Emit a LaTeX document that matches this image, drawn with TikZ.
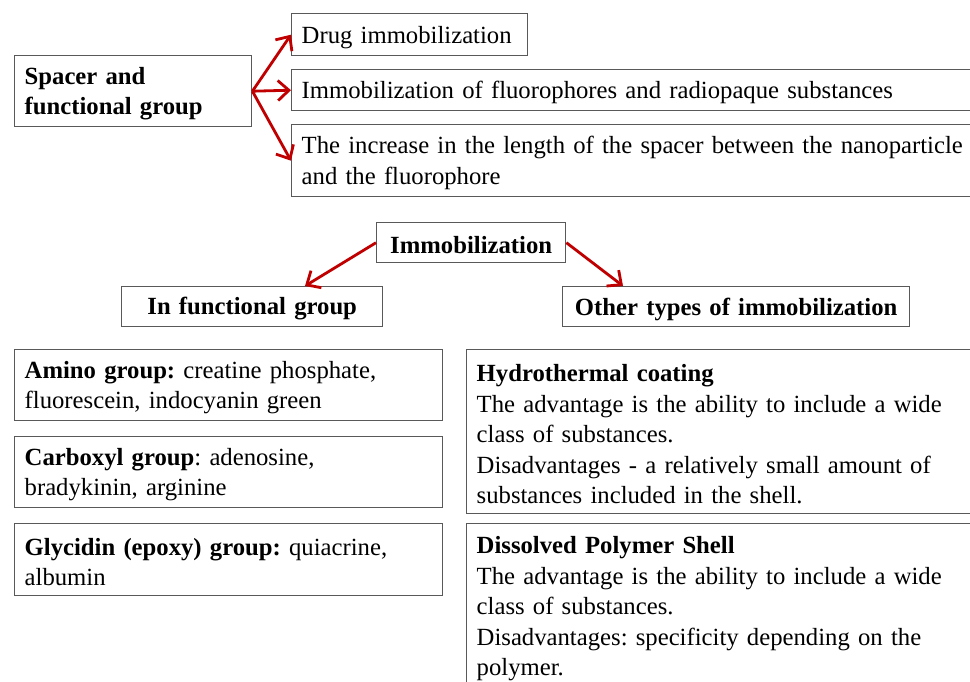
\documentclass[tikz,border=0pt]{standalone}
\usepackage{fontspec}
\setmainfont{Liberation Serif}
\usetikzlibrary{arrows.meta}
\definecolor{arrred}{HTML}{C00000}
\definecolor{boxgray}{HTML}{595959}
\frenchspacing
\tikzset{
  box/.style n args={2}{draw=boxgray, line width=1.4pt, anchor=north west,
    minimum width=#1, minimum height=#2, text width=#1-20pt,
    inner xsep=10pt, inner ysep=0pt, align=left, text height=22pt,
    font=\fontsize{24.7}{30.5}\selectfont},
  cbox/.style n args={2}{box={#1}{#2}, align=center},
  arr/.style={draw=arrred, line width=2.8pt,
    -{Straight Barb[length=11pt,width=20pt,line width=2.8pt]}}
}
\begin{document}
\begin{tikzpicture}[x=1pt,y=-1pt]
\useasboundingbox (0,0) rectangle (970,682);
\clip (0,0) rectangle (970,682);
\fill[white] (0,0) rectangle (970,682);
% top section
\node[box={237pt}{71pt}] (spacer) at (14,55) {\textbf{Spacer and}\\\textbf{functional group}};
\node[box={236pt}{42pt}] (drug) at (291,13) {Drug immobilization};
\node[box={720pt}{41pt}] (fluoro) at (291,69) {Immobilization of fluorophores and radiopaque substances};
\node[box={720pt}{72pt}] (incr) at (291,124) {The increase in the length of the spacer between the nanoparticle\\and the fluorophore};
% middle
\node[cbox={189pt}{40pt}] (immob) at (376,222) {\textbf{Immobilization}};
\node[cbox={261pt}{40pt}] (infunc) at (121,286) {\textbf{In functional group}};
\node[cbox={347pt}{40pt}] (other) at (562,286) {\textbf{Other types of immobilization}};
% left boxes
\node[box={428pt}{71pt}] (amino) at (14,349) {\textbf{Amino group:} creatine phosphate,\\fluorescein, indocyanin green};
\node[box={428pt}{71pt}] (carb) at (14,436) {\textbf{Carboxyl group}: adenosine,\\bradykinin, arginine};
\node[box={428pt}{72pt}] (glyc) at (14,523) {\textbf{Glycidin (epoxy) group:} quiacrine,\\albumin};
% right boxes
\node[box={560pt}{164pt}] (hydro) at (466,349) {\textbf{Hydrothermal coating}\\The advantage is the ability to include a wide\\class of substances.\\Disadvantages - a relatively small amount of\\substances included in the shell.};
\node[box={560pt}{165pt}] (diss) at (466,523) {\textbf{Dissolved Polymer Shell}\\The advantage is the ability to include a wide\\class of substances.\\Disadvantages: specificity depending on the\\polymer.};
% arrows
\draw[arr] (spacer.east) -- (drug.west);
\draw[arr] (spacer.east) -- (fluoro.west);
\draw[arr] (spacer.east) -- (incr.west);
\draw[arr] (immob.west) -- ([xshift=184pt]infunc.north west);
\draw[arr] (immob.east) -- ([xshift=61pt]other.north west);
\end{tikzpicture}
\end{document}
